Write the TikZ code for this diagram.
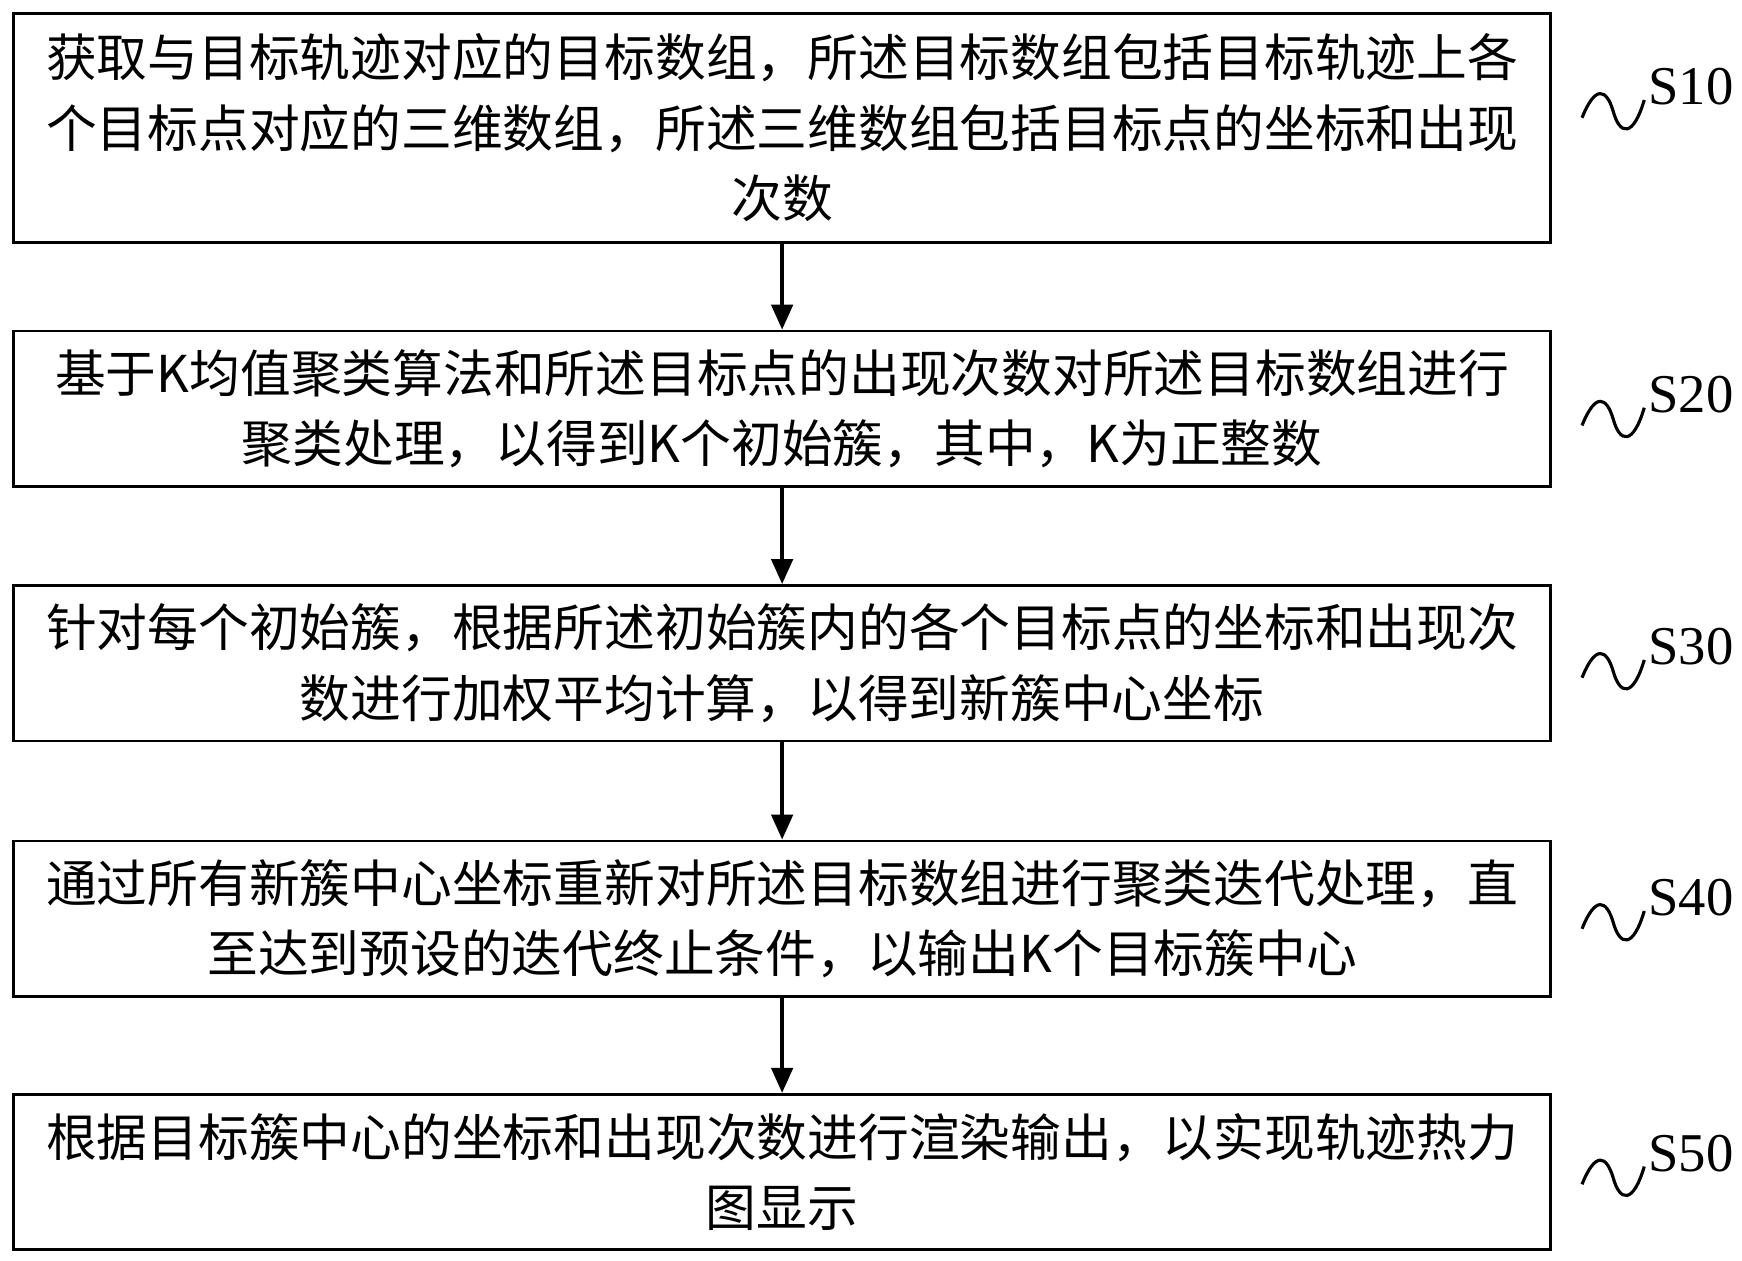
\documentclass[tikz,border=0pt]{standalone}
\usepackage{fontspec}
\setmainfont{Liberation Serif}
\newfontfamily\cjk{Noto Sans CJK SC}
\usetikzlibrary{arrows.meta}
\tikzset{
  stepbox/.style={draw, line width=1.4pt, minimum width=27.68cm, align=center,
    font=\cjk\fontsize{26}{36}\selectfont, inner sep=0pt},
  flow/.style={-{Triangle[length=0.45cm,width=0.38cm]}, line width=2.2pt},
  steplabel/.style={font=\fontsize{28}{30}\selectfont}
}
\begin{document}
\begin{tikzpicture}[x=0.02cm,y=-0.02cm]
  \useasboundingbox (0,0) rectangle (1568,1135);
  % boxes
  \node [stepbox, minimum height=4.12cm](s10) at (704,115) {获取与目标轨迹对应的目标数组，所述目标数组包括目标轨迹上各\\个目标点对应的三维数组，所述三维数组包括目标点的坐标和出现\\次数};
  \node [stepbox, minimum height=2.8cm](s20) at (704,368) {基于K均值聚类算法和所述目标点的出现次数对所述目标数组进行\\聚类处理，以得到K个初始簇，其中，K为正整数};
  \node [stepbox, minimum height=2.8cm](s30) at (704,597) {针对每个初始簇，根据所述初始簇内的各个目标点的坐标和出现次\\数进行加权平均计算，以得到新簇中心坐标};
  \node [stepbox, minimum height=2.8cm](s40) at (704,827) {通过所有新簇中心坐标重新对所述目标数组进行聚类迭代处理，直\\至达到预设的迭代终止条件，以输出K个目标簇中心};
  \node [stepbox, minimum height=2.8cm](s50) at (704,1055) {根据目标簇中心的坐标和出现次数进行渲染输出，以实现轨迹热力\\图显示};

  % arrows
  \draw [flow] (s10) -- (s20);
  \draw [flow] (s20) -- (s30);
  \draw [flow] (s30) -- (s40);
  \draw [flow] (s40) -- (s50);

  % step labels with wavy leaders
  \foreach \s/\y in {10/78, 20/355, 30/582, 40/808, 50/1038}{
    \node [steplabel](l\s) at (1522,\y) {S\s};
    \draw [line width=1.6pt] (1424,\y+28) .. controls (1436,\y-2) and (1446,\y+2) .. (1452,\y+22)
      .. controls (1458,\y+44) and (1470,\y+46) .. (1480,\y+12);
  }
\end{tikzpicture}
\end{document}
